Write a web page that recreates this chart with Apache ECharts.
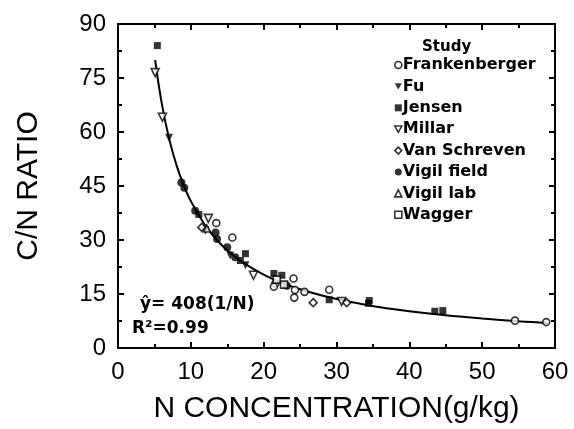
<!DOCTYPE html>
<html><head><meta charset="utf-8">
<script src="https://cdn.jsdelivr.net/npm/echarts@6/dist/echarts.min.js"></script>
<style>html,body{margin:0;padding:0;background:#fff}#c{width:574px;height:429px}</style>
</head><body><div id="c"></div>
<script>
// ---- data ----
const xTicks = [0, 10, 20, 30, 40, 50, 60];
const yTicks = [0, 15, 30, 45, 60, 75, 90];

const frankenberger = [[13.5,34.7],[15.7,30.7],[21.6,17.9],[21.4,17.0],[24.1,19.3],[24.3,16.1],[24.2,14.0],[25.6,15.6],[29.0,16.2],[54.5,7.6],[58.8,7.2]];
const fu = [[7.0,58.4],[12.0,32.6],[15.4,25.7],[17.5,23.0]];
const jensen = [[5.4,84.0],[11.1,37.1],[16.8,24.3],[17.5,26.2],[21.4,20.7],[22.5,20.2],[29.0,13.4],[34.4,12.4],[34.5,13.2],[43.5,10.2],[44.6,10.4]];
const millar = [[5.1,76.5],[6.1,64.1],[12.4,36.0],[18.6,20.2],[30.7,12.9]];
const vanSchreven = [[26.8,12.6],[31.4,12.6],[11.5,33.5]];
const vigilField = [[8.7,46.0],[9.1,44.5],[10.6,38.1],[13.4,32.1],[13.6,30.3],[15.0,28.0],[16.1,25.2],[23.2,17.3]];
const vigilLab = [[12.2,33.2]];
const wagger = [[21.8,19.0],[22.8,17.6]];

// fitted curve y = 408(1/N)
const fitN  = [5.1, 6, 7, 8, 9, 10, 12, 14, 16, 18, 20, 22, 25, 28, 32, 36, 40, 45, 50, 55, 59];
const fitCN = [80.0, 68.0, 58.3, 51.0, 45.3, 40.8, 34.0, 29.1, 25.5, 22.7, 20.4, 18.5, 16.3, 14.6, 12.8, 11.3, 10.2, 9.1, 8.2, 7.4, 6.9];

const studies = ['Frankenberger','Fu','Jensen','Millar','Van Schreven','Vigil field','Vigil lab','Wagger'];
const annotation1 = 'ŷ= 408(1/N)';
const annotation2 = 'R²=0.99';

// ---- chart ----
const chart = echarts.init(document.getElementById('c'), null, {renderer:'canvas'});
const open = {color:'#fff', borderColor:'#000', borderWidth:1.6};
const fill = {color:'#000', borderColor:'#000', borderWidth:0};
const downTri = 'path://M0,0 L10,0 L5,9 Z';
function sc(name, data, symbol, size, style) {
  return {name, type:'scatter', data, symbol, symbolSize:size,
    itemStyle:style, z:5, emphasis:{disabled:true}};
}
const tickFont = {fontFamily:'Liberation Sans', fontSize:24, color:'#000'};
function axisLine(){ return {show:true, onZero:false, lineStyle:{color:'#000', width:2}}; }
function axisTick(){ return {show:true, inside:true, length:6, lineStyle:{color:'#000', width:2}}; }
function minorTick(){ return {show:true, splitNumber:2, length:4, lineStyle:{color:'#000', width:2}}; }

const legendIcons = {'Fu':downTri, 'Millar':downTri};
const legendStyles = {'Frankenberger':open,'Fu':fill,'Jensen':fill,'Millar':open,'Van Schreven':open,'Vigil field':fill,'Vigil lab':open,'Wagger':open};

chart.setOption({
  animation:false,
  backgroundColor:'#fff',
  grid:{left:118, right:19, top:24, bottom:77},
  xAxis:[{
    type:'value', min:0, max:60, interval:10, position:'bottom',
    name:'N CONCENTRATION(g/kg)', nameLocation:'middle', nameGap:46,
    nameTextStyle:{fontFamily:'Liberation Sans', fontSize:30, color:'#000'},
    axisLine:axisLine(), axisTick:axisTick(), minorTick:minorTick(),
    axisLabel:Object.assign({margin:12, formatter:v=>xTicks.includes(v)?String(v):''}, tickFont),
    splitLine:{show:false}
  },{
    type:'value', min:0, max:60, interval:10, position:'top',
    axisLine:axisLine(), axisTick:axisTick(), minorTick:minorTick(), axisLabel:{show:false}, splitLine:{show:false}
  }],
  yAxis:[{
    type:'value', min:0, max:90, interval:15, position:'left',
    name:'C/N RATIO', nameLocation:'middle', nameGap:74,
    nameTextStyle:{fontFamily:'Liberation Sans', fontSize:30, color:'#000'},
    axisLine:axisLine(), axisTick:axisTick(), minorTick:minorTick(),
    axisLabel:Object.assign({margin:12, formatter:v=>yTicks.includes(v)?String(v):''}, tickFont),
    splitLine:{show:false}
  },{
    type:'value', min:0, max:90, interval:15, position:'right',
    axisLine:axisLine(), axisTick:axisTick(), minorTick:minorTick(), axisLabel:{show:false}, splitLine:{show:false}
  }],
  legend:{
    orient:'vertical', left:389, top:52, itemWidth:7, itemHeight:7, itemGap:5.4,
    selectedMode:false,
    data:studies.map(s => Object.assign({name:s, itemStyle:legendStyles[s]}, legendIcons[s]?{icon:legendIcons[s]}:{})),
    textStyle:{fontFamily:'DejaVu Sans', fontWeight:'bold', fontSize:16, color:'#000', padding:[0,0,0,-4], lineHeight:15}
  },
  graphic:[
    {type:'text', left:422, top:40, style:{text:'Study', font:'bold 15px "DejaVu Sans"', fill:'#000'}},
    {type:'text', left:140, top:296, style:{text:annotation1, font:'bold 17px "DejaVu Sans"', fill:'#000'}},
    {type:'text', left:132, top:320, style:{text:annotation2, font:'bold 17px "DejaVu Sans"', fill:'#000'}}
  ],
  series:[
    {name:'fit', type:'line', data:fitN.map((n,i)=>[n, fitCN[i]]), smooth:0.4, symbol:'none',
      lineStyle:{color:'#000', width:2}, z:4, silent:true},
    sc('Frankenberger', frankenberger, 'circle', 7, open),
    sc('Fu', fu, downTri, 8, fill),
    sc('Jensen', jensen, 'rect', 7, fill),
    sc('Millar', millar, downTri, 8, open),
    sc('Van Schreven', vanSchreven, 'diamond', 8, open),
    sc('Vigil field', vigilField, 'circle', 8, fill),
    sc('Vigil lab', vigilLab, 'triangle', 7, open),
    sc('Wagger', wagger, 'rect', 7, open),
    {name:'frame', type:'line', xAxisIndex:1, yAxisIndex:1, data:[], silent:true}
  ]
});
</script></body></html>
